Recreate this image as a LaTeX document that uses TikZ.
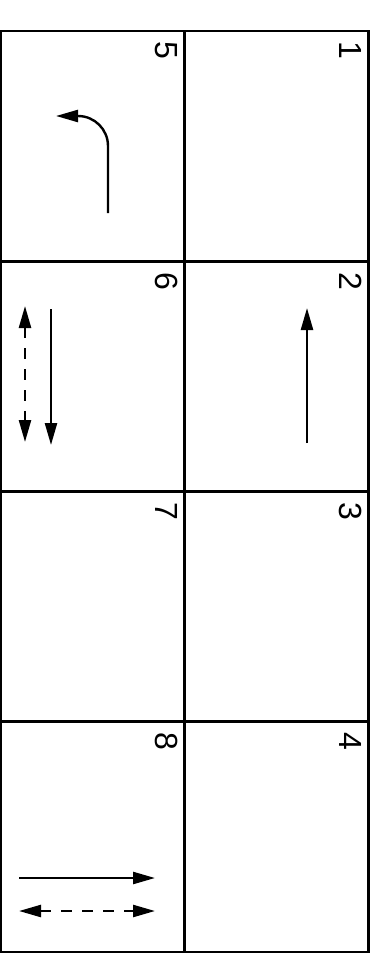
\documentclass[tikz,border=0pt]{standalone}
\usepackage{fontspec}
\setmainfont{Liberation Sans}
\setsansfont{Liberation Sans}
\usetikzlibrary{arrows.meta, positioning, calc}
\definecolor{cink}{HTML}{000000}
\tikzset{
  every picture/.style={font=\sffamily, line width=2pt},
  cell/.style={draw=cink, line width=2.8pt, minimum width=184pt, minimum height=230.25pt, inner sep=0pt, outer sep=0pt},
  num/.style={font=\sffamily\fontsize{32}{38}\selectfont, text=cink, rotate=-90, anchor=north west, inner sep=0pt},
  arrow/.style={-{Triangle[length=22pt, width=12pt]}, draw=cink, line width=2.4pt},
  twoway/.style={{Triangle[length=22pt, width=12pt]}-{Triangle[length=22pt, width=12pt]}, draw=cink, line width=2.4pt, dash pattern=on 11pt off 10pt},
}

\begin{document}
\begin{tikzpicture}[x=1pt, y=-1pt]
  \useasboundingbox (0,0) rectangle (388,955);
  % right column
  \node[cell] (c1) at (276.5,146.125) {};
  \node[cell] (c2) at (276.5,376.375) {};
  \node[cell] (c3) at (276.5,606.625) {};
  \node[cell] (c4) at (276.5,836.875) {};
  % left column
  \node[cell] (c5) at (92.5,146.125) {};
  \node[cell] (c6) at (92.5,376.375) {};
  \node[cell] (c7) at (92.5,606.625) {};
  \node[cell] (c8) at (92.5,836.875) {};
  % numbers
  \node[num] (n1) at ([shift={(-6,10)}]c1.north east) {1};
  \node[num] (n2) at ([shift={(-6,10)}]c2.north east) {2};
  \node[num] (n3) at ([shift={(-6,10)}]c3.north east) {3};
  \node[num] (n4) at ([shift={(-6,10)}]c4.north east) {4};
  \node[num] (n5) at ([shift={(-6,10)}]c5.north east) {5};
  \node[num] (n6) at ([shift={(-6,10)}]c6.north east) {6};
  \node[num] (n7) at ([shift={(-6,10)}]c7.north east) {7};
  \node[num] (n8) at ([shift={(-6,10)}]c8.north east) {8};
  % moves
  \draw[arrow] (108,213) -- (108,146) arc[start angle=0, end angle=-90, radius=30] -- (56,116);
  \draw[arrow] (307,443) -- (307,308);
  \draw[arrow] (51,309) -- (51,445);
  \draw[twoway] (25,306) -- (25,442);
  \draw[arrow] (19,878) -- (155,878);
  \draw[twoway] (19,911) -- (155,911);
\end{tikzpicture}
\end{document}
